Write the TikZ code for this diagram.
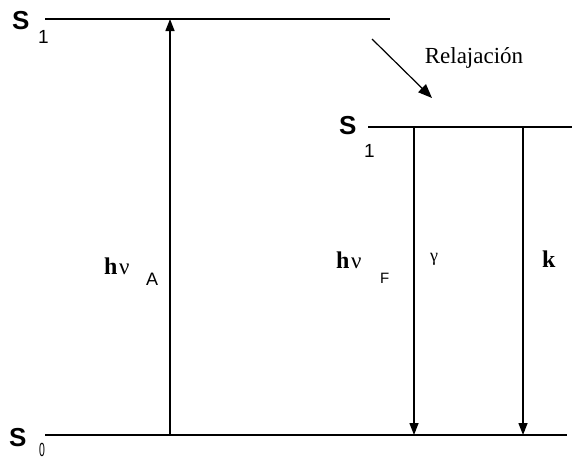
\documentclass[tikz,border=0pt]{standalone}
\usepackage{fontspec}
\usepackage{graphicx}
\setmainfont{Liberation Serif}
\newfontfamily\lsans{Liberation Sans}
\usetikzlibrary{arrows.meta}
\tikzset{
  level/.style={line width=2pt},
  trans/.style={line width=1.4pt,-{Triangle[length=12pt,width=9pt]}},
  relax/.style={line width=1.2pt,-{Triangle[length=14pt,width=11pt]}},
  slab/.style={inner sep=0pt,anchor=base west,font=\lsans\bfseries\fontsize{26}{26}\selectfont},
  sub/.style={inner sep=0pt,anchor=base west,font=\lsans\fontsize{19}{19}\selectfont},
  hb/.style={inner sep=0pt,anchor=base west,font=\bfseries\fontsize{24}{24}\selectfont},
  nu/.style={inner sep=0pt,anchor=base west,font=\fontsize{23}{23}\selectfont},
  txt/.style={inner sep=0pt,font=\fontsize{23}{23}\selectfont}
}
\begin{document}
\begin{tikzpicture}[x=1pt,y=-1pt]
\useasboundingbox (0,0) rectangle (572,461);
% levels
\coordinate (t1) at (45,19);  \coordinate (t2) at (390,19);
\coordinate (r1) at (368,127); \coordinate (r2) at (572,127);
\coordinate (b1) at (45,435); \coordinate (b2) at (567,435);
\draw[level] (t1) -- (t2);
\draw[level] (r1) -- (r2);
\draw[level] (b1) -- (b2);
% level labels
\node[slab] (S1t) at (12,29) {S};
\node[sub] (S1ts) at (38,43) {1};
\node[slab] (S1r) at (339,134) {S};
\node[sub] (S1rs) at (364,157) {1};
\node[slab] (S0) at (9,446) {S};
\node[sub] (S0s) at (39,456) {\scalebox{0.55}[1]{0}};
% transitions
\coordinate (aup0) at (170,435); \coordinate (aup1) at (170,19);
\draw[trans] (aup0) -- (aup1);
\coordinate (g0) at (414,127); \coordinate (g1) at (414,435);
\draw[trans] (g0) -- (g1);
\coordinate (k0) at (523,127); \coordinate (k1) at (523,435);
\draw[trans] (k0) -- (k1);
% relaxation
\coordinate (rx0) at (372,39); \coordinate (rx1) at (432,98);
\draw[relax] (rx0) -- (rx1);
\node[txt] (rel) at (474,58) {Relajación};
% labels
\node[hb] (hA) at (104,274) {h};
\node[nu] (nuA) at (119,274) {ν};
\node[sub,font=\lsans\fontsize{18}{18}\selectfont] (A) at (146,285) {A};
\node[hb] (hF) at (336,268) {h};
\node[nu] (nuF) at (351,268) {ν};
\node[sub,font=\lsans\fontsize{15}{15}\selectfont] (F) at (380,283) {F};
\node[nu,font=\fontsize{18}{18}\selectfont] (gam) at (430,261) {γ};
\node[hb] (k) at (542,267) {k};
\end{tikzpicture}
\end{document}
